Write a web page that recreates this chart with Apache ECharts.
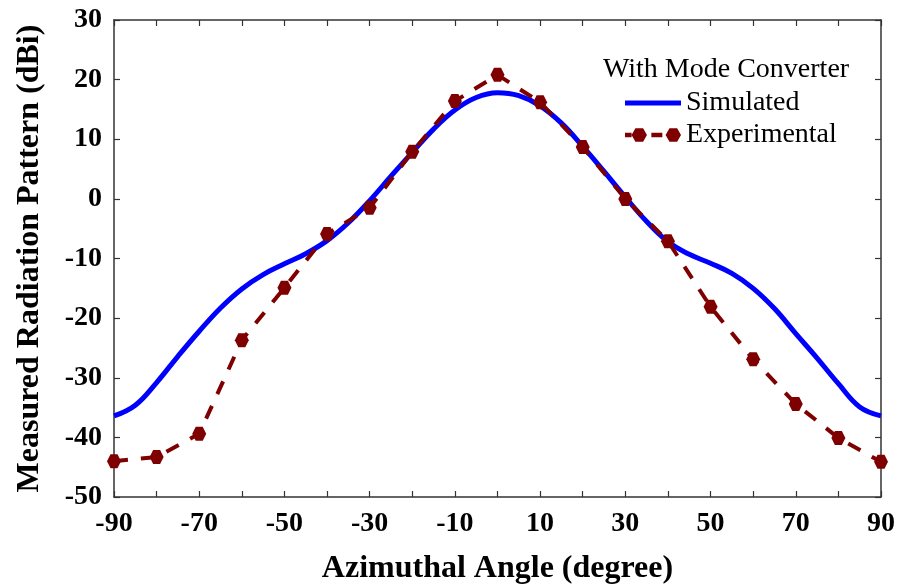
<!DOCTYPE html>
<html><head><meta charset="utf-8">
<script src="https://cdn.jsdelivr.net/npm/echarts@6/dist/echarts.min.js"></script>
<style>html,body{margin:0;padding:0;background:#fff}#c{width:897px;height:586px}</style>
</head><body><div id="c"></div>
<script>
var simAngles = [-90,-85,-80,-75,-70,-65,-60,-55,-50,-45,-40,-35,-30,-25,-20,-15,-10,-5,0,5,10,15,20,25,30,35,40,45,50,55,60,65,70,75,80,85,90];
var simValues = [-36.4,-34.6,-30.8,-26.4,-22.2,-18.3,-15.1,-12.7,-10.9,-9.2,-7.0,-4.0,-0.3,3.8,7.8,11.7,14.9,17.0,17.8,17.3,15.6,12.7,8.8,4.6,0.3,-3.8,-7.2,-9.3,-10.8,-12.5,-15.0,-18.4,-22.6,-26.7,-31.0,-34.9,-36.4];
var expAngles = [-90,-80,-70,-60,-50,-40,-30,-20,-10,0,10,20,30,40,50,60,70,80,90];
var expValues = [-44.0,-43.3,-39.4,-23.7,-14.9,-5.9,-1.5,7.9,16.4,20.8,16.2,8.7,0.0,-7.1,-18.1,-26.9,-34.4,-40.1,-44.1];
var xTicks = [-90,-70,-50,-30,-10,10,30,50,70,90];
var legendTitle = 'With Mode Converter';
var xName = 'Azimuthal Angle (degree)';
var yName = 'Measured Radiation Pattern (dBi)';

function pairs(a,b){return a.map(function(x,i){return [x,b[i]];});}
function hex(cx,cy,r){var h=r*0.866;return 'M'+(cx+r)+','+cy+'L'+(cx+r/2)+','+(cy+h)+'L'+(cx-r/2)+','+(cy+h)+'L'+(cx-r)+','+cy+'L'+(cx-r/2)+','+(cy-h)+'L'+(cx+r/2)+','+(cy-h)+'Z';}
var FF = '"Liberation Serif","Times New Roman",serif';
var chart = echarts.init(document.getElementById('c'));
var axLine = {show:true, onZero:false, lineStyle:{color:'#333', width:1.5}};
var tick = {show:true, inside:true, length:6, lineStyle:{color:'#333', width:1.2}};
chart.setOption({
  animation:false,
  backgroundColor:'#fff',
  grid:{left:114, top:20, right:16, bottom:89, containLabel:false, outerBoundsMode:'none'},
  graphic:[{type:'text', left:603, top:56, style:{text:legendTitle, font:'28px '+FF, fill:'#000'}}],
  legend:{
    orient:'vertical', left:620, top:84, itemWidth:56, itemHeight:16, itemGap:4,
    textStyle:{fontFamily:FF, fontSize:28, color:'#000'},
    data:[
      {name:'Simulated', icon:'path://M0,0H56V5H0Z'},
      {name:'Experimental', icon:'path://M0,6H6V10H0Z' + hex(13,8,7) + 'M24,6H34V10H24Z' + hex(44,8,7)}
    ]
  },
  xAxis:[{
    type:'value', min:-90, max:90, interval:10, position:'bottom',
    name:xName, nameLocation:'middle', nameGap:56,
    nameTextStyle:{fontFamily:FF, fontSize:32, fontWeight:'bold', color:'#000'},
    axisLine:axLine, axisTick:tick, splitLine:{show:false},
    axisLabel:{margin:13, fontFamily:FF, fontSize:28, fontWeight:'bold', color:'#000',
      formatter:function(v){return xTicks.indexOf(v)>=0 ? String(v) : '';}}
  },{
    type:'value', min:-90, max:90, interval:10, position:'top',
    axisLine:axLine, axisTick:tick, axisLabel:{show:false}, splitLine:{show:false}
  }],
  yAxis:[{
    type:'value', min:-50, max:30, interval:10, position:'left',
    name:yName, nameLocation:'middle', nameGap:68, nameRotate:90,
    nameTextStyle:{fontFamily:FF, fontSize:32, fontWeight:'bold', color:'#000'},
    axisLine:axLine, axisTick:tick, splitLine:{show:false},
    axisLabel:{margin:12, fontFamily:FF, fontSize:28, fontWeight:'bold', color:'#000'}
  },{
    type:'value', min:-50, max:30, interval:10, position:'right',
    axisLine:axLine, axisTick:tick, axisLabel:{show:false}, splitLine:{show:false}
  }],
  series:[{
    name:'Simulated', type:'line', smooth:0.4, showSymbol:false, symbol:'none',
    data:pairs(simAngles, simValues),
    lineStyle:{color:'#0000ff', width:5}, itemStyle:{color:'#0000ff'}, z:2
  },{
    name:'Experimental', type:'line', smooth:false, symbol:'path://' + hex(7,7,7), symbolSize:14,
    data:pairs(expAngles, expValues),
    lineStyle:{color:'#7f0000', width:4, type:[14,13]}, itemStyle:{color:'#7f0000'}, z:3
  }]
});
</script></body></html>
